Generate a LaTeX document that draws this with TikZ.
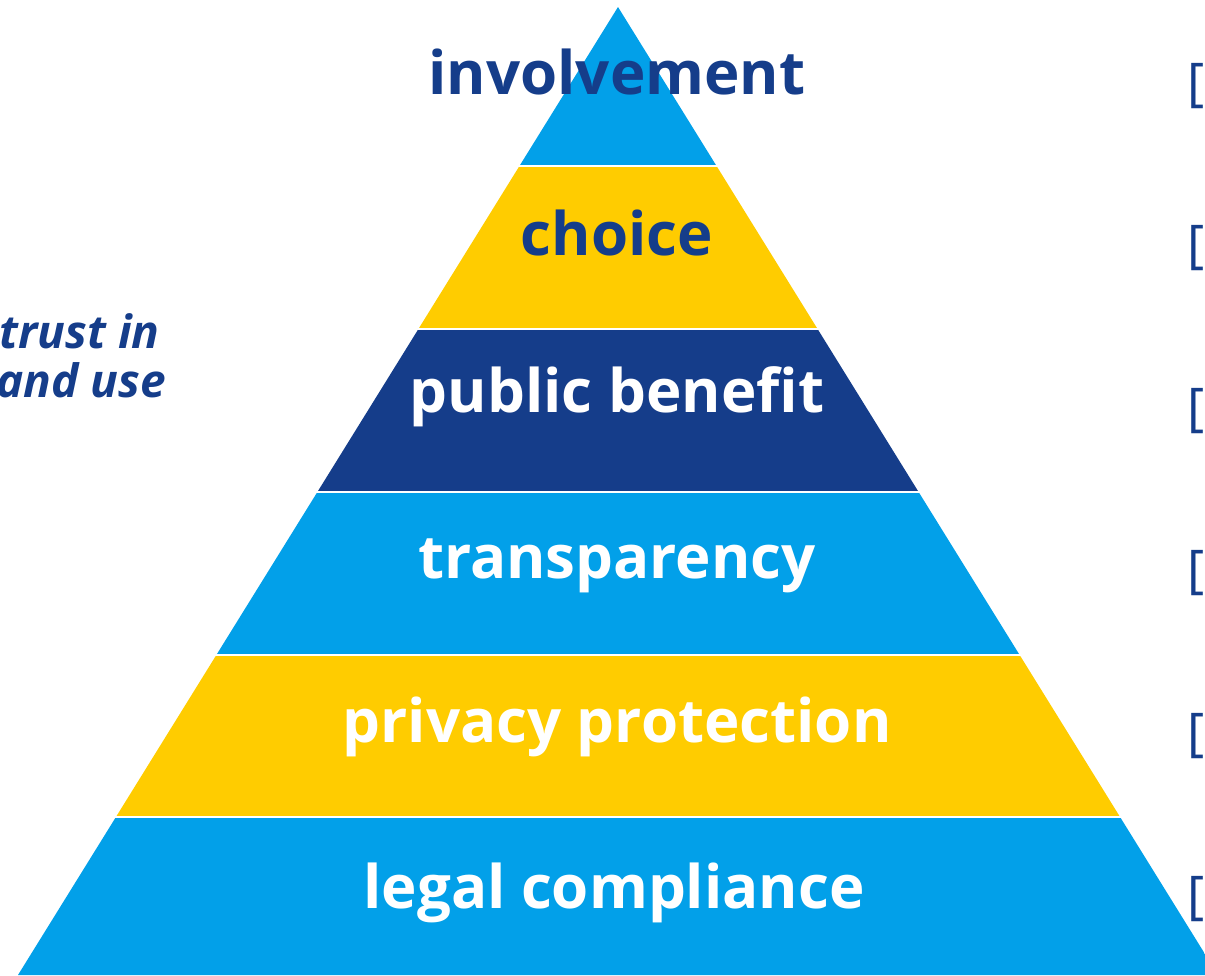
\documentclass[tikz,border=0pt]{standalone}
\usepackage{fontspec}
\setmainfont{Open Sans}
\usepackage{tikz}
\usetikzlibrary{calc}
\definecolor{pyrblue}{HTML}{02A0E9}
\definecolor{pyryellow}{HTML}{FFCC00}
\definecolor{pyrnavy}{HTML}{153D8A}

\begin{document}
\begin{tikzpicture}[x=1pt, y={(0pt,-1pt)},
tier/.style={font=\bfseries\fontsize{60}{64}\selectfont, anchor=base, inner sep=0pt},
side/.style={font=\bfseries\itshape\fontsize{46}{50}\selectfont, text=pyrnavy, anchor=base east, inner sep=0pt},
ref/.style={font=\fontsize{52}{56}\selectfont, text=pyrnavy, anchor=base west, inner sep=0pt}
]
	\useasboundingbox (0,0) rectangle (1205,975);
	% the pyramid, cut into six tiers
	\begin{scope}
		\clip (618,7) -- (18,975) -- (1218,975) -- cycle;
		\foreach \tp/\bt/\col in {0/165/pyrblue, 167/328/pyryellow, 330/491/pyrnavy, 493/654/pyrblue, 656/816/pyryellow, 818/980/pyrblue}
			\fill[\col] (0,\tp) rectangle (1220,\bt);
	\end{scope}
	\node[tier, text=pyrnavy] (t6) at (617,94) {involvement};
	\node[tier, text=pyrnavy] (t5) at (617,255) {choice};
	\node[tier, text=white] (t4) at (617,412) {public benefit};
	\node[tier, text=white] (t3) at (617,578) {transparency};
	\node[tier, text=white] (t2) at (617,742) {privacy protection};
	\node[tier, text=white] (t1) at (614,908) {legal compliance};
	% left caption, cut by the page edge
	\node[side] (s1) at (160,348) {trust in};
	\node[side] (s2) at (166,397) {and use};
	% brackets on the right, cut by the page edge
	\foreach \i in {0,...,5}
		\node[ref] (r\i) at (1187,{100+162.6*\i}) {[};
\end{tikzpicture}
\end{document}
